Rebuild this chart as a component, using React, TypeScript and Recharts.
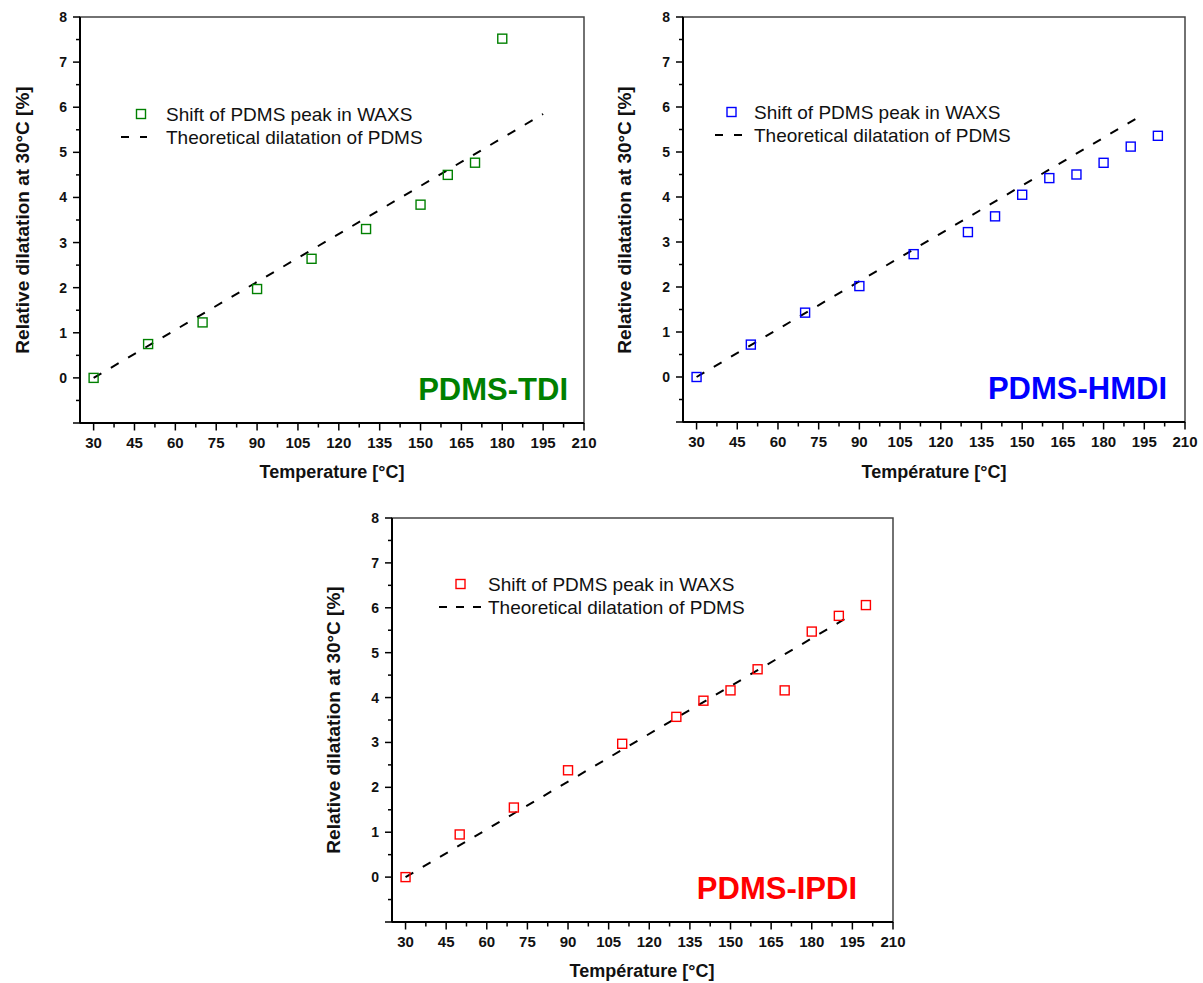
import React from 'react';
import { ComposedChart, Scatter, Line, XAxis, YAxis, ReferenceArea } from 'recharts';

// ---------- data ----------
const tdiTemps = [30, 50, 70, 90, 110, 130, 150, 160, 170, 180];
const tdiValues = [0, 0.75, 1.23, 1.97, 2.64, 3.3, 3.84, 4.5, 4.77, 7.52];

const hmdiTemps = [30, 50, 70, 90, 110, 130, 140, 150, 160, 170, 180, 190, 200];
const hmdiValues = [0, 0.72, 1.43, 2.02, 2.73, 3.22, 3.57, 4.05, 4.42, 4.5, 4.76, 5.12, 5.36];

const ipdiTemps = [30, 50, 70, 90, 110, 130, 140, 150, 160, 170, 180, 190, 200];
const ipdiValues = [0, 0.95, 1.55, 2.38, 2.97, 3.57, 3.93, 4.16, 4.63, 4.16, 5.47, 5.82, 6.06];

const theoryTemps = [30, 195];
const theoryValues = [0, 5.85];

const xTicks = [30, 37.5, 45, 52.5, 60, 67.5, 75, 82.5, 90, 97.5, 105, 112.5, 120, 127.5, 135, 142.5, 150, 157.5, 165, 172.5, 180, 187.5, 195, 202.5, 210];
const xTickLabels = [30, 45, 60, 75, 90, 105, 120, 135, 150, 165, 180, 195, 210];
const yTicks = [-1, -0.5, 0, 0.5, 1, 1.5, 2, 2.5, 3, 3.5, 4, 4.5, 5, 5.5, 6, 6.5, 7, 7.5, 8];
const yTickLabels = [0, 1, 2, 3, 4, 5, 6, 7, 8];

const legendMarkerText = 'Shift of PDMS peak in WAXS';
const legendLineText = 'Theoretical dilatation of PDMS';
const yTitle = 'Relative dilatation at 30°C [%]';

const FONT = '"Liberation Sans", Arial, Helvetica, sans-serif';

const toPoints = (xs: number[], ys: number[]) => xs.map((x, i) => ({ x, y: ys[i] }));

const XTick = (props: any) => {
  const { x, y, payload } = props;
  const v = payload.value;
  const major = xTickLabels.includes(v);
  return (
    <g>
      <line x1={x} y1={y} x2={x} y2={y + (major ? 7.5 : 4.5)} stroke="#000" strokeWidth={1.5} />
      {major && (
        <text x={x} y={y + 25} textAnchor="middle" fontSize={15} fontWeight="bold" fontFamily={FONT} fill="#111">
          {v}
        </text>
      )}
    </g>
  );
};

const YTick = (props: any) => {
  const { x, y, payload } = props;
  const v = payload.value;
  const major = Number.isInteger(v);
  const labeled = yTickLabels.includes(v);
  return (
    <g>
      <line x1={x - (major ? 7 : 4)} y1={y} x2={x} y2={y} stroke="#000" strokeWidth={1.5} />
      {labeled && (
        <text x={x - 13} y={y} dy="0.36em" textAnchor="end" fontSize={14} fontWeight="bold" fontFamily={FONT} fill="#111">
          {v}
        </text>
      )}
    </g>
  );
};

type PanelProps = {
  left: number;
  top: number;
  width: number;
  height: number;
  margin: { top: number; right: number; bottom: number; left: number };
  points: { x: number; y: number }[];
  color: string;
};

const Panel = ({ left, top, width, height, margin, points, color }: PanelProps) => {
  const theory = toPoints(theoryTemps, theoryValues);
  const square = (p: any) => (
    <rect x={p.cx - 4.5} y={p.cy - 4.5} width={9} height={9} fill="none" stroke={color} strokeWidth={1.4} />
  );
  return (
    <div style={{ position: 'absolute', left, top, width, height }}>
      <ComposedChart width={width} height={height} margin={margin}>
        <XAxis
          dataKey="x"
          type="number"
          domain={[25, 210]}
          ticks={xTicks}
          interval={0}
          allowDataOverflow
          height={50}
          tickSize={0}
          tickMargin={0}
          tickLine={false}
          tick={<XTick />}
          axisLine={{ stroke: '#000', strokeWidth: 2 }}
        />
        <YAxis
          dataKey="y"
          type="number"
          domain={[-1, 8]}
          ticks={yTicks}
          interval={0}
          allowDataOverflow
          width={60}
          tickSize={0}
          tickMargin={0}
          tickLine={false}
          tick={<YTick />}
          axisLine={{ stroke: '#000', strokeWidth: 2 }}
        />
        <ReferenceArea x1={25} x2={210} y1={-1} y2={8} fill="none" stroke="#444" strokeWidth={1.5} />
        <Line
          data={theory}
          dataKey="y"
          stroke="#000"
          strokeWidth={2}
          strokeDasharray="9 11"
          dot={false}
          activeDot={false}
          isAnimationActive={false}
          legendType="none"
        />
        <Scatter data={points} dataKey="y" shape={square} isAnimationActive={false} />
      </ComposedChart>
    </div>
  );
};

const Legend = ({ sx, sy, tx, dx1, dx2, color, dash }: any) => (
  <g fontFamily={FONT} fontSize={19} fill="#111">
    <rect x={sx - 4.5} y={sy - 4.5} width={9} height={9} fill="none" stroke={color} strokeWidth={1.4} />
    <text x={tx} y={sy} dy="0.36em">{legendMarkerText}</text>
    <line x1={dx1} y1={sy + 23} x2={dx2} y2={sy + 23} stroke="#000" strokeWidth={2} strokeDasharray={dash} />
    <text x={tx} y={sy + 23} dy="0.36em">{legendLineText}</text>
  </g>
);

export default function App() {
  return (
    <div style={{ position: 'absolute', left: 0, top: 0, width: 1203, height: 983, background: '#fff', overflow: 'hidden' }}>
      <Panel
        left={0}
        top={0}
        width={600}
        height={490}
        margin={{ top: 17, right: 16, bottom: 17, left: 20 }}
        points={toPoints(tdiTemps, tdiValues)}
        color="#008000"
      />
      <Panel
        left={600}
        top={0}
        width={600}
        height={490}
        margin={{ top: 17, right: 15, bottom: 18, left: 23 }}
        points={toPoints(hmdiTemps, hmdiValues)}
        color="#0000ff"
      />
      <Panel
        left={300}
        top={490}
        width={610}
        height={493}
        margin={{ top: 28, right: 17, bottom: 11, left: 32 }}
        points={toPoints(ipdiTemps, ipdiValues)}
        color="#ff0000"
      />
      <svg width={1203} height={983} style={{ position: 'absolute', left: 0, top: 0, pointerEvents: 'none' }}>
        {/* axis titles */}
        <g fontFamily={FONT} fontWeight="bold" fill="#111" textAnchor="middle">
          <text x={332} y={472} dy="0.36em" fontSize={18}>Temperature [°C]</text>
          <text x={934} y={472} dy="0.36em" fontSize={18}>Température [°C]</text>
          <text x={642} y={971} dy="0.36em" fontSize={18}>Température [°C]</text>
          <text transform="translate(22.5,220) rotate(-90)" dy="0.36em" fontSize={19}>{yTitle}</text>
          <text transform="translate(624,220) rotate(-90)" dy="0.36em" fontSize={19}>{yTitle}</text>
          <text transform="translate(333,720) rotate(-90)" dy="0.36em" fontSize={19}>{yTitle}</text>
        </g>
        {/* legends */}
        <Legend sx={141} sy={114} tx={166} dx1={121} dx2={147} color="#008000" dash="8 11" />
        <Legend sx={731.5} sy={112} tx={754} dx1={715} dx2={742} color="#0000ff" dash="8 11" />
        <Legend sx={460.5} sy={584} tx={488} dx1={439} dx2={482} color="#ff0000" dash="8 9" />
        {/* sample labels */}
        <g fontFamily={FONT} fontWeight="bold" fontSize={31} textAnchor="end">
          <text x={568} y={400} fill="#008000">PDMS-TDI</text>
          <text x={1167} y={399} fill="#0000ff">PDMS-HMDI</text>
          <text x={857} y={899} fill="#ff0000">PDMS-IPDI</text>
        </g>
      </svg>
    </div>
  );
}
